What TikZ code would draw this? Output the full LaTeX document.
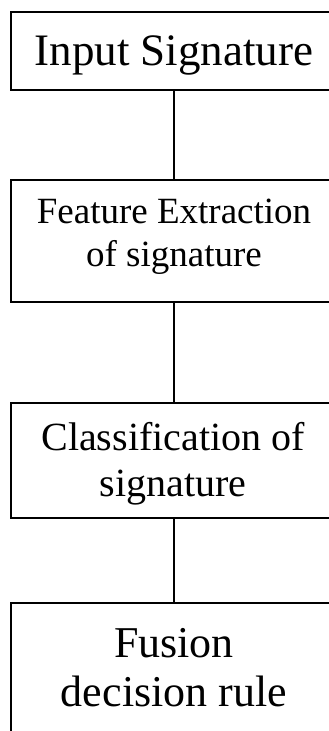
\documentclass[tikz,border=0pt]{standalone}
\usepackage{fontspec}
\setmainfont{Liberation Serif}
\begin{document}
\begin{tikzpicture}[x=1pt,y=-1pt,
  box/.style={draw=black, line width=1.6pt, minimum width=326pt, inner sep=0pt},
  conn/.style={draw=black, line width=1.6pt},
  lbl/.style={inner sep=0pt, align=center, anchor=base}]
\useasboundingbox (0,0) rectangle (329,731);
\clip (0,0) rectangle (329,731);
\fill[white] (0,0) rectangle (329,731);
\node[box, minimum height=78pt] (b1) at (174,51) {};
\node[box, minimum height=122pt] (b2) at (174,241) {};
\node[box, minimum height=115pt] (b3) at (174,460.5) {};
\node[box, minimum height=140pt] (b4) at (174,673) {};
\draw[conn] (b1.south) -- (b2.north);
\draw[conn] (b2.south) -- (b3.north);
\draw[conn] (b3.south) -- (b4.north);
\node[lbl, font=\fontsize{45}{52}\selectfont] (t1) at (174,65) {Input Signature};
\node[lbl, font=\fontsize{37}{43}\selectfont] (t2) at (174,266) {Feature Extraction\\of signature};
\node[lbl, font=\fontsize{40}{46}\selectfont] (t3) at (173,496) {Classification of\\signature};
\node[lbl, font=\fontsize{44}{49}\selectfont] (t4) at (174,706) {Fusion\\decision rule};
\end{tikzpicture}
\end{document}
